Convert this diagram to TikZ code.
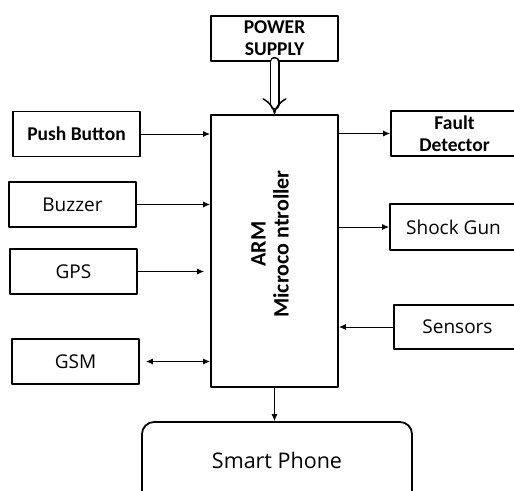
\documentclass[tikz,border=0pt]{standalone}
\usepackage{fontspec}
\setmainfont{Carlito}
\newfontfamily\plainfont{Open Sans}
\usetikzlibrary{arrows.meta}
\tikzset{
  blockbox/.style={draw,line width=1.8pt,minimum width=127pt,minimum height=45pt,inner sep=0pt,align=center,font=\plainfont\fontsize{19}{22}\selectfont},
  boldbox/.style={blockbox,font=\fontsize{19.5}{22}\selectfont\bfseries},
  link/.style={line width=1pt,-{Latex[length=7pt,width=6pt]}},
  every picture/.style={line cap=round,line join=round}
}
\begin{document}
\begin{tikzpicture}[x=1pt,y=-1pt]
    \useasboundingbox (0,0) rectangle (514,490);
    \clip (0,0) rectangle (514,490);
    \node[boldbox] (power) at (274.5,38.5) {POWER\\SUPPLY};
    \node[blockbox,minimum height=272pt] (mcu) at (274.5,251) {};
    \node[rotate=90,align=center,font=\fontsize{22}{23}\selectfont\bfseries] (mculabel) at (270,244) {ARM\\Microco ntroller};
    \node[boldbox] (push) at (76.5,134) {Push Button};
    \node[blockbox] (buzzer) at (72.5,204.5) {Buzzer};
    \node[blockbox] (gps) at (73.5,271.5) {GPS};
    \node[blockbox] (gsm) at (75.5,361.5) {GSM};
    \node[boldbox] (fault) at (454.5,133.5) {Fault\\Detector};
    \node[blockbox,minimum height=46pt] (shock) at (453.5,227) {Shock Gun};
    \node[blockbox,minimum height=44pt] (sensors) at (457.5,327) {Sensors};
    \node[blockbox,rounded corners=12pt,minimum width=270pt,minimum height=100pt] (phone) at (277,472) {};
    \node[font=\plainfont\fontsize{21.5}{24}\selectfont] (phonelabel) at (277,460) {Smart Phone};
    \draw[line width=1.5pt,double,double distance=7pt,-{Implies}] (power) -- (mcu);
    \draw[link] (push.east) -- (push.east -| mcu.west);
    \draw[link] (buzzer.east) -- (buzzer.east -| mcu.west);
    \draw[link,shorten >=6pt] (gps.east) -- (gps.east -| mcu.west);
    \draw[link,{Latex[length=7pt,width=6pt]}-{Latex[length=7pt,width=6pt]},shorten <=6pt] (gsm.east) -- (gsm.east -| mcu.west);
    \draw[link] (mcu.east |- fault.west) -- (fault.west);
    \draw[link] (mcu.east |- shock.west) -- (shock.west);
    \draw[link] (sensors.west) -- (sensors.west -| mcu.east);
    \draw[link] (mcu.south) -- (mcu.south |- phone.north);
\end{tikzpicture}
\end{document}
